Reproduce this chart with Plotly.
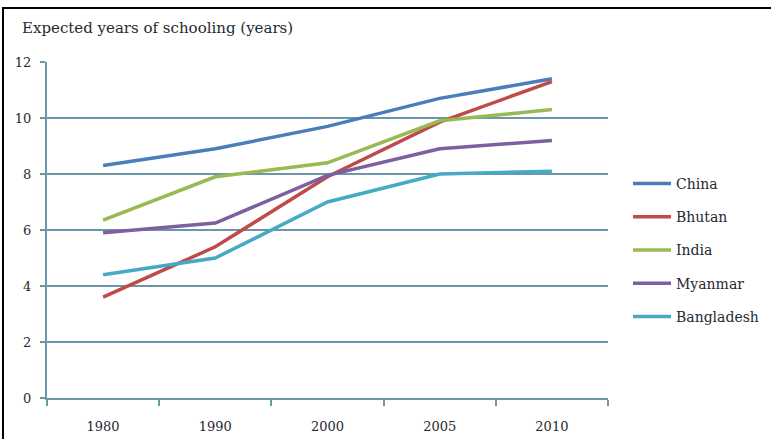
import plotly.graph_objects as go

years = ["1980", "1990", "2000", "2005", "2010"]
countries = ["China", "Bhutan", "India", "Myanmar", "Bangladesh"]
china = [8.3, 8.9, 9.7, 10.7, 11.4]
bhutan = [3.6, 5.4, 7.9, 9.85, 11.3]
india = [6.35, 7.9, 8.4, 9.9, 10.3]
myanmar = [5.9, 6.25, 7.95, 8.9, 9.2]
bangladesh = [4.4, 5.0, 7.0, 8.0, 8.1]
y_ticks = [0, 2, 4, 6, 8, 10, 12]
title_text = "Expected years of schooling (years)"

series = [china, bhutan, india, myanmar, bangladesh]
colors = ["#4a7ebb", "#be4b48", "#98b954", "#7d60a0", "#46aac5"]

W, H = 771, 439
L, R, T, B = 47, 608, 62, 398
pw, ph = R - L, B - T
FONT = "DejaVu Serif"
TXT = "#1f2a30"
GRID = "#6b97ab"

fig = go.Figure()
for name, vals, c in zip(countries, series, colors):
    fig.add_trace(go.Scatter(x=years, y=vals, name=name, mode="lines",
                             line=dict(color=c, width=3.5), legendgroup=name))

fig.update_layout(
    width=W, height=H,
    margin=dict(l=L, r=W - R, t=T, b=H - B, pad=0, autoexpand=False),
    paper_bgcolor="white", plot_bgcolor="white",
    font=dict(family=FONT, size=13, color=TXT),
    showlegend=True,
    legend=dict(x=(628 - L) / pw, y=(B - 168) / ph, xanchor="left", yanchor="top",
                font=dict(family=FONT, size=14, color=TXT),
                itemwidth=38,
                tracegroupgap=12, bgcolor="rgba(0,0,0,0)", traceorder="grouped"),
    xaxis=dict(type="category", range=[-0.5, 4.5], showgrid=False, automargin=False,
               showline=True, linecolor=GRID, linewidth=2,
               ticks="outside", tickson="boundaries", ticklen=6, tickcolor=GRID, tickwidth=1.5,
               ticklabelstandoff=15,
               tickfont=dict(family=FONT, size=13, color=TXT)),
    yaxis=dict(range=[0, 12], tickvals=y_ticks, showgrid=True, gridcolor=GRID, gridwidth=1.8,
               automargin=False,
               showline=True, linecolor=GRID, linewidth=2, zeroline=False,
               ticks="outside", ticklen=5, tickcolor=GRID, tickwidth=1.5,
               ticklabelstandoff=6,
               tickfont=dict(family=FONT, size=13, color=TXT)),
)

fig.add_annotation(text=title_text, xref="paper", yref="paper",
                   x=(20 - L) / pw, y=(B - 28) / ph, xanchor="left", yanchor="middle",
                   showarrow=False, font=dict(family=FONT, size=15, color=TXT))

fig.add_shape(type="rect", xref="paper", yref="paper",
              x0=(3 - L) / pw, x1=(790 - L) / pw, y0=(B - 460) / ph, y1=(B - 8) / ph,
              line=dict(color="black", width=2), fillcolor="rgba(0,0,0,0)", layer="above")

fig.write_html("out.html", config={"displayModeBar": False},
               post_script="document.body.style.margin='0';")
